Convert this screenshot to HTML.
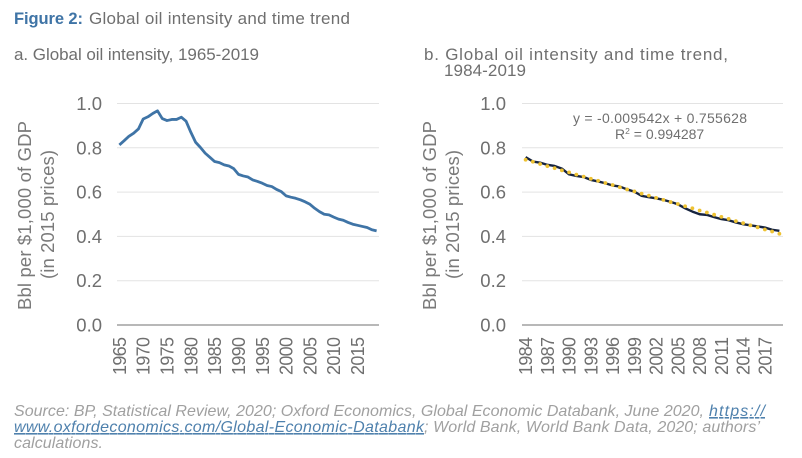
<!DOCTYPE html>
<html lang="en">
<head>
<meta charset="utf-8">
<title>Figure 2: Global oil intensity and time trend</title>
<style>
html,body{margin:0;padding:0;background:#fff;width:802px;height:458px;overflow:hidden}
svg{display:block;font-family:"Liberation Sans",sans-serif}
</style>
</head>
<body>
<svg id="root" width="802" height="458" viewBox="0 0 802 458" xmlns="http://www.w3.org/2000/svg">
  <text x="14" y="24" font-size="16.5" font-weight="bold" fill="#3f74a6" textLength="69" lengthAdjust="spacing">Figure 2:</text>
  <text x="89" y="24" font-size="17" fill="#6f6f6f" textLength="261" lengthAdjust="spacing">Global oil intensity and time trend</text>
  <text x="14" y="60" font-size="17" fill="#6f6f6f" textLength="245" lengthAdjust="spacing">a. Global oil intensity, 1965-2019</text>
  <text x="424" y="60" font-size="17" fill="#6f6f6f" textLength="304" lengthAdjust="spacing">b. Global oil intensity and time trend,</text>
  <text x="444" y="76" font-size="17" fill="#6f6f6f" textLength="82" lengthAdjust="spacing">1984-2019</text>

  <g id="panelA"></g>
  <g id="panelB"></g>

  <text transform="translate(31,215.5) rotate(-90)" text-anchor="middle" font-size="18.5" fill="#7a7a7a" textLength="189" lengthAdjust="spacing">Bbl per $1,000 of GDP</text>
  <text transform="translate(54,214.5) rotate(-90)" text-anchor="middle" font-size="18.5" fill="#7a7a7a" textLength="129" lengthAdjust="spacing">(in 2015 prices)</text>
  <text transform="translate(436,215.5) rotate(-90)" text-anchor="middle" font-size="18.5" fill="#7a7a7a" textLength="189" lengthAdjust="spacing">Bbl per $1,000 of GDP</text>
  <text transform="translate(459,214.5) rotate(-90)" text-anchor="middle" font-size="18.5" fill="#7a7a7a" textLength="129" lengthAdjust="spacing">(in 2015 prices)</text>

  <text x="573" y="123" font-size="14" fill="#6f6f6f" textLength="174" lengthAdjust="spacing">y = -0.009542x + 0.755628</text>
  <text x="615" y="139" font-size="14" fill="#6f6f6f">R<tspan font-size="8.5" dy="-5">2</tspan><tspan dy="5"> = 0.994287</tspan></text>

  <g font-size="16" font-style="italic" fill="#a0a0a0">
    <text x="14" y="416" textLength="690" lengthAdjust="spacing">Source: BP, Statistical Review, 2020; Oxford Economics, Global Economic Databank, June 2020,</text>
    <text x="709" y="416" fill="#4f81ad" text-decoration="underline" textLength="56" lengthAdjust="spacing">https://</text>
    <text x="14" y="432" fill="#4f81ad" text-decoration="underline" textLength="410" lengthAdjust="spacing">www.oxfordeconomics.com/Global-Economic-Databank</text>
    <text x="424" y="432" textLength="336" lengthAdjust="spacing">; World Bank, World Bank Data, 2020; authors’</text>
    <text x="14" y="448" textLength="89" lengthAdjust="spacing">calculations.</text>
  </g>
</svg>
<script>
const yTicks = [0, 0.2, 0.4, 0.6, 0.8, 1.0];
const yearsA = [1965,1966,1967,1968,1969,1970,1971,1972,1973,1974,1975,1976,1977,1978,1979,1980,1981,1982,1983,1984,1985,1986,1987,1988,1989,1990,1991,1992,1993,1994,1995,1996,1997,1998,1999,2000,2001,2002,2003,2004,2005,2006,2007,2008,2009,2010,2011,2012,2013,2014,2015,2016,2017,2018,2019];
const intensityA = [.813,.832,.852,.866,.885,.93,.94,.955,.967,.932,.923,.928,.928,.938,.92,.87,.825,.802,.776,.757,.738,.733,.723,.718,.706,.68,.673,.668,.655,.648,.64,.63,.625,.612,.602,.583,.577,.572,.565,.556,.545,.527,.512,.5,.497,.487,.478,.473,.463,.455,.45,.445,.44,.43,.425];
const tickLabelsA = ["1965","1970","1975","1980","1985","1990","1995","2000","2005","2010","2015"];
const yearsB = [1984,1985,1986,1987,1988,1989,1990,1991,1992,1993,1994,1995,1996,1997,1998,1999,2000,2001,2002,2003,2004,2005,2006,2007,2008,2009,2010,2011,2012,2013,2014,2015,2016,2017,2018,2019];
const intensityB = [.758,.738,.733,.723,.718,.706,.68,.673,.668,.655,.648,.64,.63,.625,.612,.602,.583,.577,.572,.565,.556,.545,.527,.512,.5,.497,.487,.478,.473,.463,.455,.45,.445,.44,.43,.425];
const trendB = [.746,.737,.727,.717,.708,.698,.689,.679,.670,.660,.651,.641,.632,.622,.612,.603,.593,.584,.574,.565,.555,.546,.536,.527,.517,.508,.498,.488,.479,.469,.460,.450,.441,.431,.422,.412];
const tickLabelsB = ["1984","1987","1990","1993","1996","1999","2002","2005","2008","2011","2014","2017"];

const NS = "http://www.w3.org/2000/svg";
function make(parent, tag, attrs) {
  const el = document.createElementNS(NS, tag);
  for (const k in attrs) el.setAttribute(k, attrs[k]);
  parent.appendChild(el);
  return el;
}
function drawAxes(group, years, labels, left, right, top, bottom, labelRight) {
  const band = (right - left) / years.length;
  const xPos = i => left + band * (i + 0.5);
  const yPos = v => bottom - (bottom - top) * v;
  yTicks.forEach(t => {
    const line = make(group, "line", {x1: left, x2: right, y1: yPos(t), y2: yPos(t), stroke: t === 0 ? "#a0a0a0" : "#e3e3e3", "stroke-width": t === 0 ? 1.4 : 1});
    
    
    const lab = make(group, "text", {x: labelRight, y: yPos(t) + 6.5, "text-anchor": "end", "font-size": 18.5, fill: "#6f6f6f"});
    lab.textContent = t.toFixed(1);
    
    
  });
  labels.forEach(l => {
    const i = years.indexOf(Number(l));
    const x = xPos(i) + 6.5;
    const lab = make(group, "text", {transform: "translate(" + x + ",375) rotate(-90)", "font-size": 18, fill: "#6f6f6f", textLength: 38, lengthAdjust: "spacing"});
    lab.textContent = l;
    
    
  });
  return {xPos, yPos};
}
function linePath(values, s) {
  return values.map((v, i) => (i ? "L" : "M") + s.xPos(i).toFixed(2) + " " + s.yPos(v).toFixed(2)).join("");
}

const gA = document.getElementById("panelA");
const sA = drawAxes(gA, yearsA, tickLabelsA, 117, 379, 103.5, 325, 102);
const seriesA = make(gA, "path", {d: linePath(intensityA, sA), fill: "none", stroke: "#3f74a6", "stroke-width": 2.8, "stroke-linejoin": "round"});



const gB = document.getElementById("panelB");
const sB = drawAxes(gB, yearsB, tickLabelsB, 522, 783, 103.5, 325, 506);
const seriesB = make(gB, "path", {d: linePath(intensityB, sB), fill: "none", stroke: "#16233f", "stroke-width": 2.4, "stroke-linejoin": "round"});


trendB.forEach((v, i) => {
  const dot = make(gB, "circle", {cx: sB.xPos(i), cy: sB.yPos(v), r: 1.9, fill: "#eec232"});
  
  
});
</script>
</body>
</html>
